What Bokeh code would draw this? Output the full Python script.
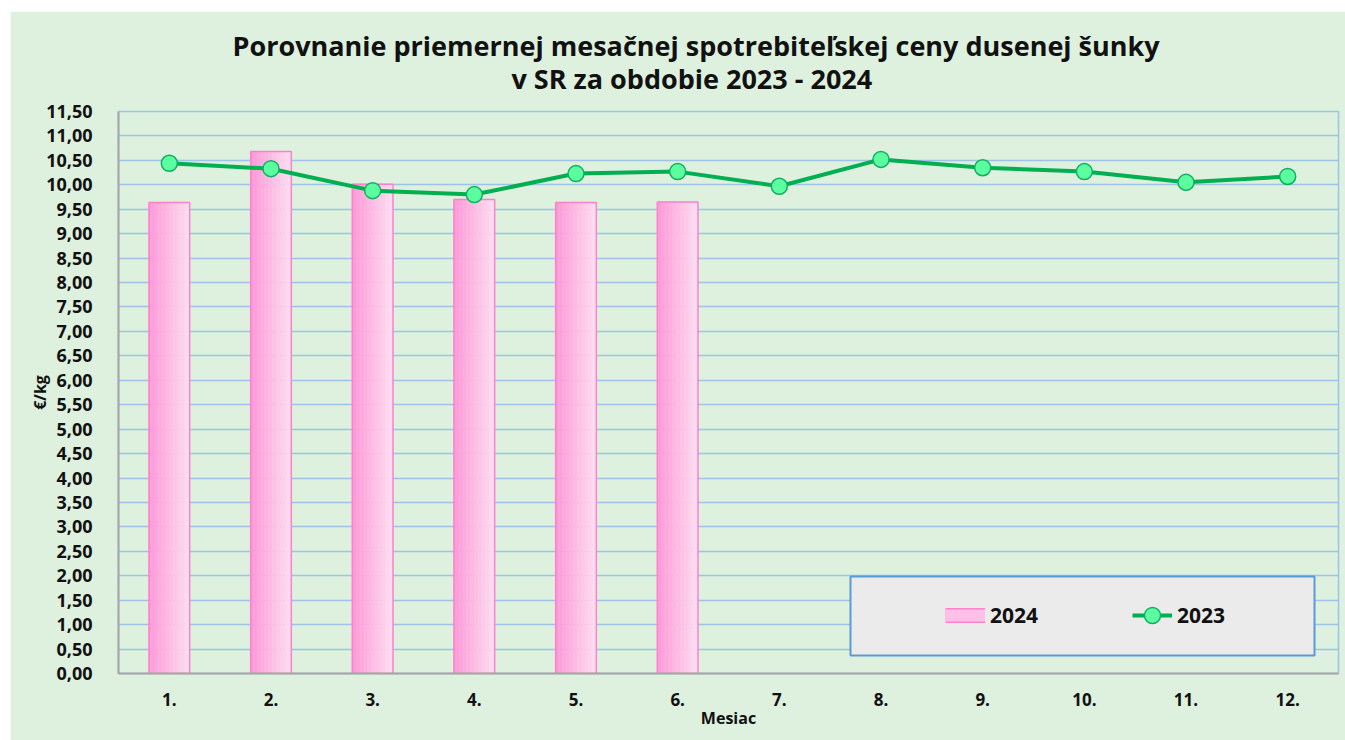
import numpy as np
from bokeh.plotting import figure
from bokeh.models import (ColumnDataSource, FixedTicker, CustomJSTickFormatter, Range1d,
                          Legend, LegendItem, BoxAnnotation, Title)
from bokeh.embed import file_html
from bokeh.resources import INLINE

# ---- data ----
months = [1, 2, 3, 4, 5, 6, 7, 8, 9, 10, 11, 12]
month_labels = ["1.", "2.", "3.", "4.", "5.", "6.", "7.", "8.", "9.", "10.", "11.", "12."]
months_2024 = [1, 2, 3, 4, 5, 6]
prices_2024 = [9.64, 10.68, 10.01, 9.70, 9.64, 9.65]
prices_2023 = [10.44, 10.33, 9.88, 9.80, 10.23, 10.27, 9.97, 10.52, 10.35, 10.27, 10.05, 10.17]
y_ticks = [0.0, 0.5, 1.0, 1.5, 2.0, 2.5, 3.0, 3.5, 4.0, 4.5, 5.0, 5.5, 6.0, 6.5,
           7.0, 7.5, 8.0, 8.5, 9.0, 9.5, 10.0, 10.5, 11.0, 11.5]
title_line1 = "Porovnanie priemernej mesačnej spotrebiteľskej ceny dusenej šunky"
title_line2 = "v SR za obdobie 2023 - 2024"

# ---- styles ----
FONT = "Open Sans"
BG = "#DEF0DE"
GRID = "#9DC3E6"
AXIS = "#A6A6A6"
BAR_LEFT = np.array([255, 152, 218])
BAR_RIGHT = np.array([255, 222, 242])
BAR_EDGE = "#FF80CB"
LINE = "#00B050"
MARK = "#5CFFA0"
BAR_W = 0.4

p = figure(width=1335, height=729, x_range=Range1d(0.5, 12.5), y_range=Range1d(0, 11.5),
           output_backend="svg", toolbar_location=None,
           min_border_left=108, min_border_right=7, min_border_top=100, min_border_bottom=67)
p.styles = {"margin-left": "10px", "margin-top": "11px"}
p.background_fill_color = BG
p.border_fill_color = BG
p.outline_line_color = GRID
p.outline_line_width = 1.5

p.xgrid.visible = False
p.ygrid.grid_line_color = GRID
p.ygrid.grid_line_width = 1.5
p.ygrid.ticker = FixedTicker(ticks=y_ticks)

# axes
p.yaxis.ticker = FixedTicker(ticks=y_ticks)
p.yaxis.formatter = CustomJSTickFormatter(code="return tick.toFixed(2).replace('.', ',');")
p.xaxis.ticker = FixedTicker(ticks=months)
p.xaxis.major_label_overrides = {m: l for m, l in zip(months, month_labels)}
for ax in (p.xaxis, p.yaxis):
    ax.axis_line_color = AXIS
    ax.axis_line_width = 2
    ax.major_tick_line_color = None
    ax.minor_tick_line_color = None
    ax.major_label_text_font = FONT
    ax.major_label_text_font_style = "bold"
    ax.major_label_text_color = "#111111"
    ax.axis_label_text_font = FONT
    ax.axis_label_text_font_style = "bold"
    ax.axis_label_text_color = "#111111"
    ax.axis_label_text_font_size = "16px"
p.yaxis.major_label_text_font_size = "18px"
p.yaxis.major_label_standoff = 20
p.yaxis.axis_label = "€/kg"
p.yaxis.axis_label_standoff = -8
p.xaxis.major_label_text_font_size = "17px"
p.xaxis.major_label_standoff = 13
p.xaxis.axis_label = "Mesiac"
p.xaxis.axis_label_standoff = -2

# ---- bars with horizontal gradient (strips) ----
N = 30
xs, tops, cols = [], [], []
sw = BAR_W / N
for i in range(N):
    t = i / (N - 1)
    c = (BAR_LEFT * (1 - t) + BAR_RIGHT * t).astype(int)
    col = "#%02x%02x%02x" % tuple(c)
    off = -BAR_W / 2 + (i + 0.5) * sw
    for m, v in zip(months_2024, prices_2024):
        xs.append(m + off)
        tops.append(v)
        cols.append(col)
strip_src = ColumnDataSource(dict(x=xs, top=tops, color=cols))
p.vbar(x="x", top="top", bottom=0, width=sw * 1.05, source=strip_src,
       fill_color="color", line_color="color", line_width=0.3)
bar_src = ColumnDataSource(dict(x=months_2024, top=prices_2024))
p.vbar(x="x", top="top", bottom=0, width=BAR_W, source=bar_src,
       fill_alpha=0, line_color=BAR_EDGE, line_width=1.5)

# ---- 2023 line ----
line_src = ColumnDataSource(dict(x=months, y=prices_2023))
r_line = p.line("x", "y", source=line_src, line_color=LINE, line_width=4)
r_pts = p.scatter("x", "y", source=line_src, marker="circle", size=16,
                  fill_color=MARK, line_color="#10B060", line_width=1.5)

# ---- legend ----
box = BoxAnnotation(left=732, right=1196, bottom=18, top=97,
                    left_units="screen", right_units="screen",
                    bottom_units="screen", top_units="screen",
                    fill_color="#EBEBEB", fill_alpha=1,
                    line_color="#5B9BD5", line_alpha=1, line_width=2)
p.add_layout(box)

dummy = ColumnDataSource(dict(x=[float("nan")], y=[float("nan")]))
r_leg_a = p.line("x", "y", source=dummy, line_color=BAR_EDGE, line_width=15, line_cap="butt")
r_leg_b = p.line("x", "y", source=dummy, line_color="#FFC0E8", line_width=12, line_cap="butt")

legend = Legend(items=[LegendItem(label="2024", renderers=[r_leg_a, r_leg_b]),
                       LegendItem(label="2023", renderers=[r_line, r_pts])],
                orientation="horizontal", location=(827, 37),
                padding=0, margin=0, spacing=94,
                glyph_width=40, glyph_height=42, label_height=20, label_standoff=5,
                label_text_font=FONT, label_text_font_style="bold",
                label_text_font_size="21px", label_text_color="#111111",
                border_line_alpha=0, background_fill_alpha=0)
p.add_layout(legend, "center")

# ---- title (two lines) ----
t2 = Title(text=title_line2, align="left", offset=393, standoff=30,
           text_font=FONT, text_font_style="bold", text_font_size="27px", text_color="#111111")
t1 = Title(text=title_line1, align="left", offset=114, standoff=-43,
           text_font=FONT, text_font_style="bold", text_font_size="27px", text_color="#111111")
p.add_layout(t2, "above")
p.add_layout(t1, "above")

open("out.html", "w").write(file_html(p, INLINE))
